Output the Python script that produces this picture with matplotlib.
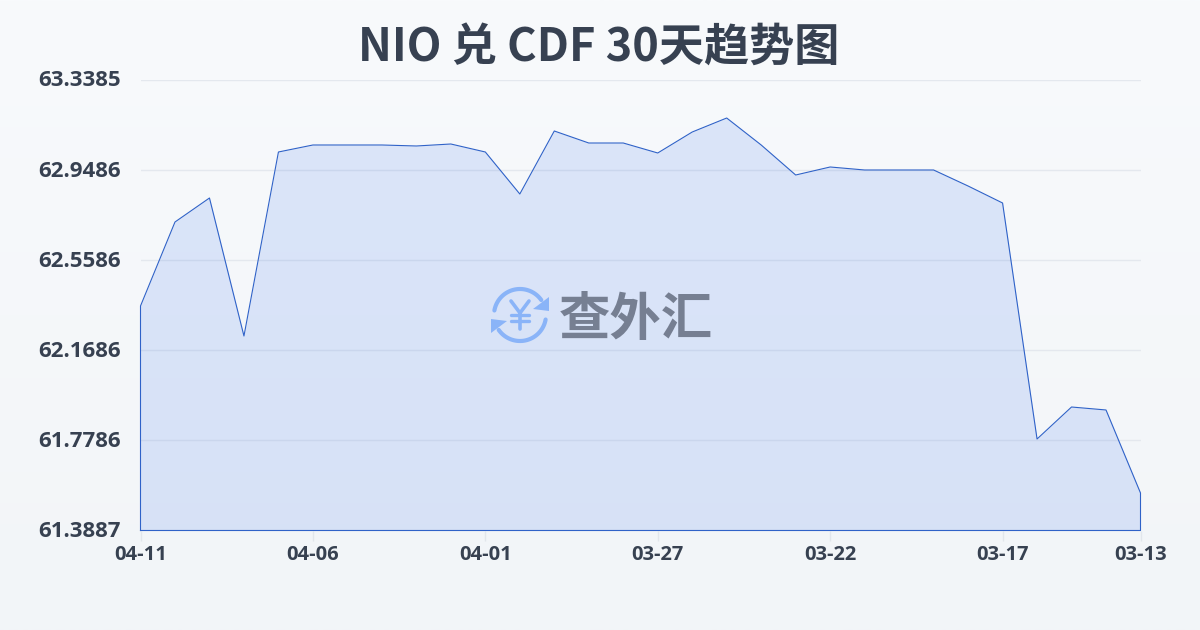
import matplotlib
matplotlib.use('Agg')
import matplotlib.pyplot as plt
from matplotlib.transforms import ScaledTranslation
import numpy as np

plt.rcParams['font.family'] = ['Noto Sans CJK SC', 'DejaVu Sans']

title = 'NIO 兑 CDF 30天趋势图'
watermark = '查外汇'

# newest day first, the chart runs backwards in time
dates = ['04-11', '04-10', '04-09', '04-08', '04-07', '04-06', '04-05', '04-04', '04-03', '04-02',
         '04-01', '03-31', '03-30', '03-29', '03-28', '03-27', '03-26', '03-25', '03-24', '03-23',
         '03-22', '03-21', '03-20', '03-19', '03-18', '03-17', '03-16', '03-15', '03-14', '03-13']
rates = [62.3604, 62.7239, 62.8278, 62.2305, 63.0269, 63.0572, 63.0572, 63.0572, 63.0529, 63.0615,
         63.0269, 62.8451, 63.1178, 63.0658, 63.0658, 63.0226, 63.1134, 63.1740, 63.0572, 62.9273,
         62.9620, 62.9490, 62.9490, 62.9490, 62.8797, 62.8062, 61.7847, 61.9232, 61.9103, 61.5510]
y_ticks = [61.3887, 61.7786, 62.1686, 62.5586, 62.9486, 63.3385]
x_tick_pos = [0, 5, 10, 15, 20, 25, 29]

text_color = '#374151'
line_color = '#2f62c8'
logo_color = '#8ab4f8'

fig = plt.figure(figsize=(12, 6.3), dpi=100)

# page background gradient
bg = fig.add_axes([0, 0, 1, 1], zorder=0)
bg.axis('off')
top = np.array([248, 250, 252]) / 255
bottom = np.array([242, 245, 248]) / 255
grad = np.linspace(0, 1, 256)[:, None, None] * (bottom - top) + top
bg.imshow(grad, aspect='auto', extent=[0, 1, 0, 1])

ax = fig.add_axes([140.5 / 1200, 1 - 530.5 / 630, 1000 / 1200, 450.5 / 630], zorder=1)
ax.patch.set_alpha(0)
x = np.arange(len(rates))
ax.fill_between(x, rates, y_ticks[0], color='#2563eb', alpha=0.135, lw=0, zorder=2)
ax.plot(np.r_[x[0], x, x[-1], x[0]], np.r_[y_ticks[0], rates, y_ticks[0], y_ticks[0]],
        color=line_color, lw=0.8, zorder=3, clip_on=False)

ax.set_xlim(0, 29)
ax.set_ylim(y_ticks[0], y_ticks[-1])
ax.set_xticks(x_tick_pos)
ax.set_xticklabels([dates[i] for i in x_tick_pos])
ax.set_yticks(y_ticks)
ax.set_yticklabels([f'{v:.4f}' for v in y_ticks])
ax.grid(axis='y', color='#e4e8ee', lw=1, zorder=1)
ax.set_axisbelow(True)
for s in ax.spines.values():
    s.set_visible(False)
ax.tick_params(axis='y', length=0, pad=14, labelsize=16, labelcolor=text_color)
ax.tick_params(axis='x', length=7, width=1, color='#e2e6ec', pad=3.5, labelsize=14.5, labelcolor=text_color)
for lab in ax.get_xticklabels() + ax.get_yticklabels():
    lab.set_fontfamily(['Open Sans', 'DejaVu Sans'])
    lab.set_fontweight('bold')
# y labels sit a little above their gridlines
nudge = ScaledTranslation(0, 1.5 / 100, fig.dpi_scale_trans)
for lab in ax.get_yticklabels():
    lab.set_transform(lab.get_transform() + nudge)

# title and watermark go on a pixel-coordinate overlay
over = fig.add_axes([0, 0, 1, 1], zorder=3)
over.axis('off')
over.set_xlim(0, 1200)
over.set_ylim(630, 0)
over.text(599, 47.5, title, ha='center', va='center', fontsize=32.5, fontweight='bold', color=text_color)
over.text(636, 319.5, watermark, ha='center', va='center', fontsize=37, fontweight='bold', color='#767f92')


def arc(a0, a1, cx=520, cy=315, r=26):
    a = np.radians(np.linspace(a0, a1, 40))
    return cx + r * np.cos(a), cy + r * np.sin(a)


# angles run clockwise on screen since y points down
over.plot(*arc(190, 325), color=logo_color, lw=3, solid_capstyle='round')
over.plot(*arc(10, 145), color=logo_color, lw=3, solid_capstyle='round')
over.fill([549, 549, 533], [297, 311, 309], color=logo_color, lw=0)
over.fill([491, 491, 507], [333, 319, 321], color=logo_color, lw=0)
# yen sign
over.plot([511, 520, 529], [301, 313, 301], color=logo_color, lw=2.6, solid_capstyle='round')
over.plot([520, 520], [313, 329], color=logo_color, lw=2.6, solid_capstyle='round')
over.plot([511, 529], [315, 315], color=logo_color, lw=2.4, solid_capstyle='round')
over.plot([511, 529], [321, 321], color=logo_color, lw=2.4, solid_capstyle='round')

fig.savefig('out.png', dpi=100)
